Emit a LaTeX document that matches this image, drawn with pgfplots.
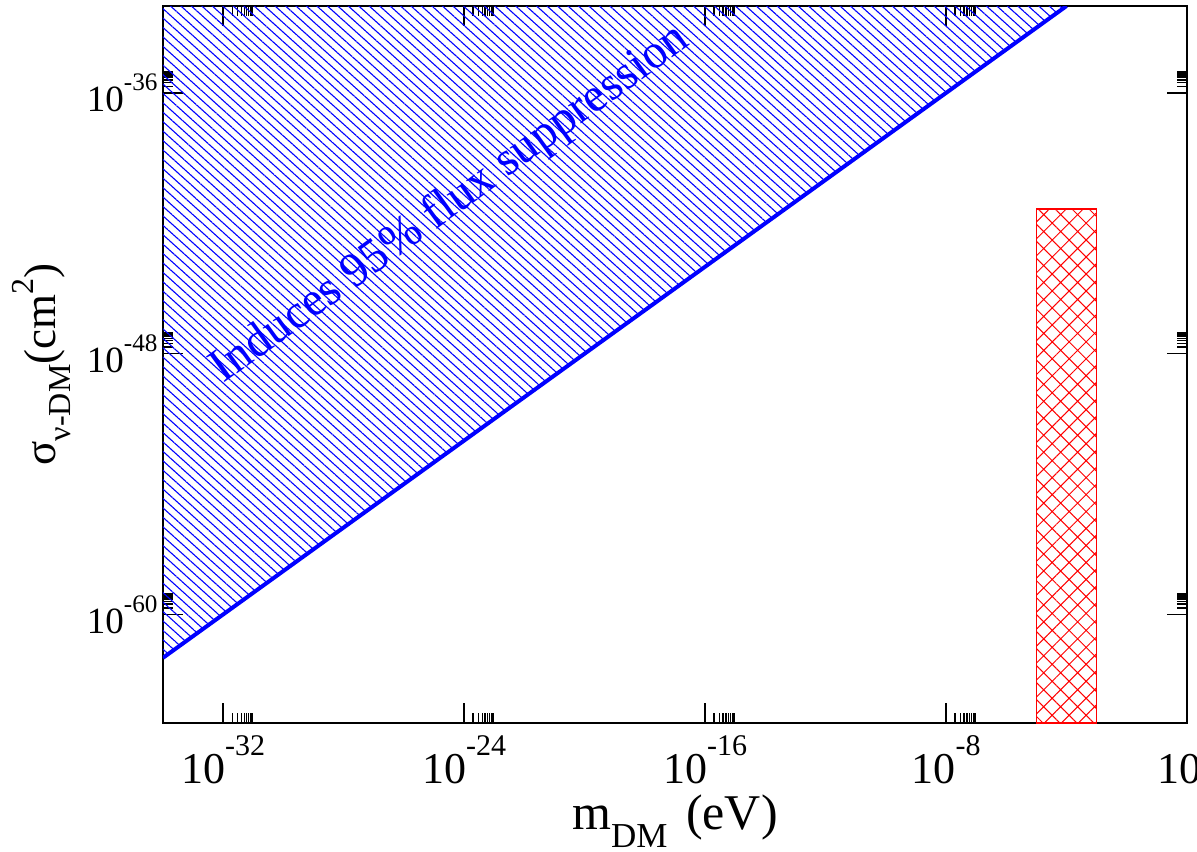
\documentclass[border=0pt]{standalone}
\usepackage{fontspec}
\setmainfont{Liberation Serif}
\usepackage{pgfplots}
\pgfplotsset{compat=1.18}
\usetikzlibrary{patterns.meta}

\newcommand{\xtl}[1]{\fontsize{22}{24}\selectfont 10\raisebox{14pt}{\fontsize{15}{16}\selectfont #1}}
\newcommand{\ytl}[1]{\fontsize{18.5}{20}\selectfont 10\raisebox{10.5pt}{\fontsize{12.6}{14}\selectfont #1}}

\begin{document}
\begin{tikzpicture}
\begin{axis}[
  at={(0,0)}, anchor=south west,
  scale only axis,
  width=512pt, height=358.5pt,
  xmode=log, ymode=log,
  xmin=1e-34, xmax=1,
  ymin=1e-65, ymax=1e-32,
  axis line style={line width=1pt},
  tick align=inside,
  tick pos=both,
  major tick length=10pt,
  minor tick length=5pt,
  every tick/.style={black, line width=0.75pt},
  xtick={1e-32,1e-24,1e-16,1e-8,1},
  xticklabels={\xtl{-32},\xtl{-24},\xtl{-16},\xtl{-8},\xtl{0}},
  minor xtick={2e-32,3e-32,4e-32,5e-32,6e-32,7e-32,8e-32,9e-32,
               2e-24,3e-24,4e-24,5e-24,6e-24,7e-24,8e-24,9e-24,
               2e-16,3e-16,4e-16,5e-16,6e-16,7e-16,8e-16,9e-16,
               2e-8,3e-8,4e-8,5e-8,6e-8,7e-8,8e-8,9e-8},
  ytick={1e-60,1e-48,1e-36},
  yticklabels={\ytl{-60},\ytl{-48},\ytl{-36}},
  minor ytick={2e-60,3e-60,4e-60,5e-60,6e-60,7e-60,8e-60,9e-60,
               2e-48,3e-48,4e-48,5e-48,6e-48,7e-48,8e-48,9e-48,
               2e-36,3e-36,4e-36,5e-36,6e-36,7e-36,8e-36,9e-36},
  xticklabel style={anchor=base, yshift=-30pt, inner sep=0pt},
  yticklabel style={anchor=east, inner sep=0pt, xshift=-2.5pt},
  xlabel={m\raisebox{-9pt}{\fontsize{17.5}{18}\selectfont DM}\hspace{3pt} (eV)},
  xlabel style={at={(axis description cs:0.5,-0.149)}, anchor=base,
    font=\fontsize{25}{28}\selectfont, inner sep=0pt},
  ylabel={σ\raisebox{-7.5pt}{\fontsize{16}{18}\selectfont ν-DM}(cm\raisebox{11pt}{\fontsize{16}{18}\selectfont 2})},
  ylabel style={at={(axis description cs:-0.1045,0.5)}, anchor=base,
    font=\fontsize{22.5}{28}\selectfont, inner sep=0pt},
]
% hatched region above the 95% suppression line
\addplot[draw=none, pattern={Lines[angle=-42,distance=3.5pt,line width=0.55pt]}, pattern color=blue]
  coordinates {(1e-34,1e-62) (1e-4,1e-32) (1e-34,1e-32)} -- cycle;
% red cross-hatched band
\addplot[draw=red, line width=0.6pt, pattern={Hatch[angle=45,distance=6pt,line width=0.5pt]}, pattern color=red]
  coordinates {(1e-5,1e-65) (1e-5,4.5e-42) (1e-3,4.5e-42) (1e-3,1e-65)} -- cycle;
% boundary line
\addplot[blue, line width=2pt] coordinates {(1e-34,1e-62) (1e-4,1e-32)};
\node[blue, rotate=36, anchor=base, font=\fontsize{24}{28}\selectfont]
  at (axis cs:6e-25,2.6e-42) {Induces 95\% flux suppression};
\end{axis}
\pgfresetboundingbox
\path[use as bounding box] (-81.5pt,-64pt) rectangle (517pt,361.5pt);
\end{tikzpicture}
\end{document}
